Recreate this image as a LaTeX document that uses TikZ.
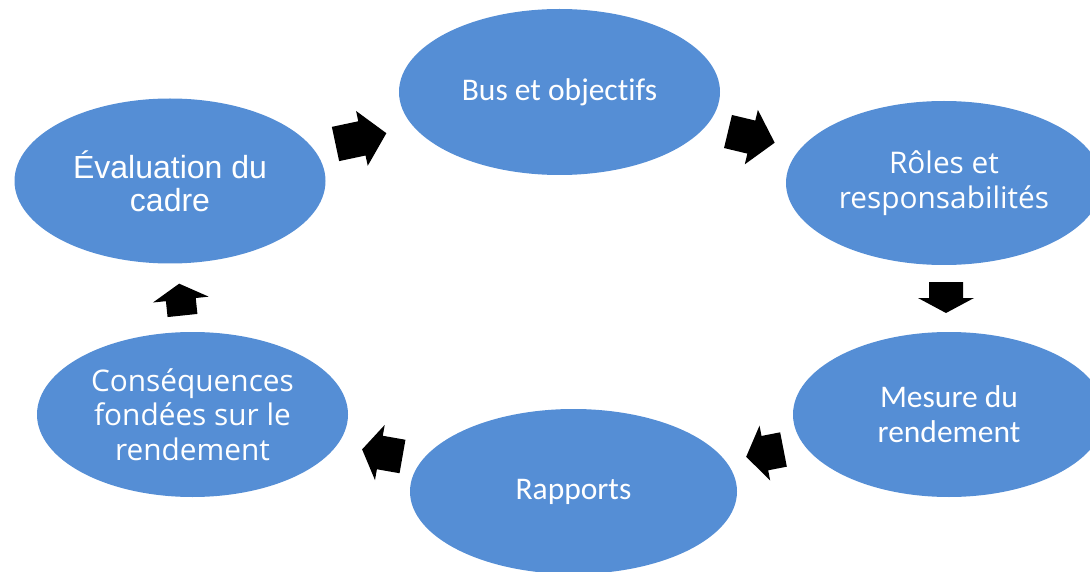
\documentclass[tikz,border=0pt]{standalone}
\usepackage{fontspec}
\usetikzlibrary{shapes.geometric}
\newfontfamily\calfont[Ligatures=NoCommon]{Carlito}
\newfontfamily\arifont{Liberation Sans}
\newfontfamily\opfont{Open Sans}
\definecolor{ovalblue}{RGB}{85,142,213}
\newcommand\blockarrow[7]{%
  \fill[black,shift={(#1,#2)},rotate=#3]
    (0,-#6/2) -- (#4-#5,-#6/2) -- (#4-#5,-#7/2) -- (#4,0) --
    (#4-#5,#7/2) -- (#4-#5,#6/2) -- (0,#6/2) -- cycle;}
\tikzset{
  oval/.style={ellipse, fill=ovalblue, draw=none, inner sep=0pt,
    text=white, align=center},
  calt/.style={font=\calfont\fontsize{31.5}{35}\selectfont},
  arit/.style={font=\arifont\fontsize{32}{33}\selectfont},
  opt/.style={font=\opfont\fontsize{29.8}{34.5}\selectfont},
}
\begin{document}
\begin{tikzpicture}[x=1pt,y=-1pt]
\useasboundingbox (0,0) rectangle (1090,572);
\clip (0,0) rectangle (1090,572);
\node[oval,calt,minimum width=321pt,minimum height=166pt] (bus) at (559.5,92) {Bus et objectifs};
\node[oval,opt,minimum width=316pt,minimum height=164pt] (roles) at (944,183) {Rôles et\\responsabilités};
\node[oval,calt,minimum width=312pt,minimum height=165pt] (mesure) at (949,414.5) {Mesure du\\rendement};
\node[oval,calt,minimum width=327pt,minimum height=165pt] (rapports) at (573.5,491.5) {Rapports};
\node[oval,opt,minimum width=311pt,minimum height=165pt] (cons) at (192.5,414.5) {Conséquences\\fondées sur le\\rendement};
\node[oval,arit,minimum width=311pt,minimum height=165pt] (eval) at (170,181) {Évaluation du\\cadre};
% block arrows: tail x, tail y, angle, length, head length, shaft width, head width
\blockarrow{335.5}{144}{12}{52}{25}{35}{56}
\blockarrow{728}{131.5}{-13.5}{48}{24}{34}{56}
\blockarrow{946}{282}{-90}{31}{15}{34}{56}
\blockarrow{783.5}{449.5}{191}{38}{19}{35}{56}
\blockarrow{402.5}{456.5}{170}{41}{18}{34}{56}
\blockarrow{182.5}{315.5}{96}{32}{16}{30}{56}
\end{tikzpicture}
\end{document}
